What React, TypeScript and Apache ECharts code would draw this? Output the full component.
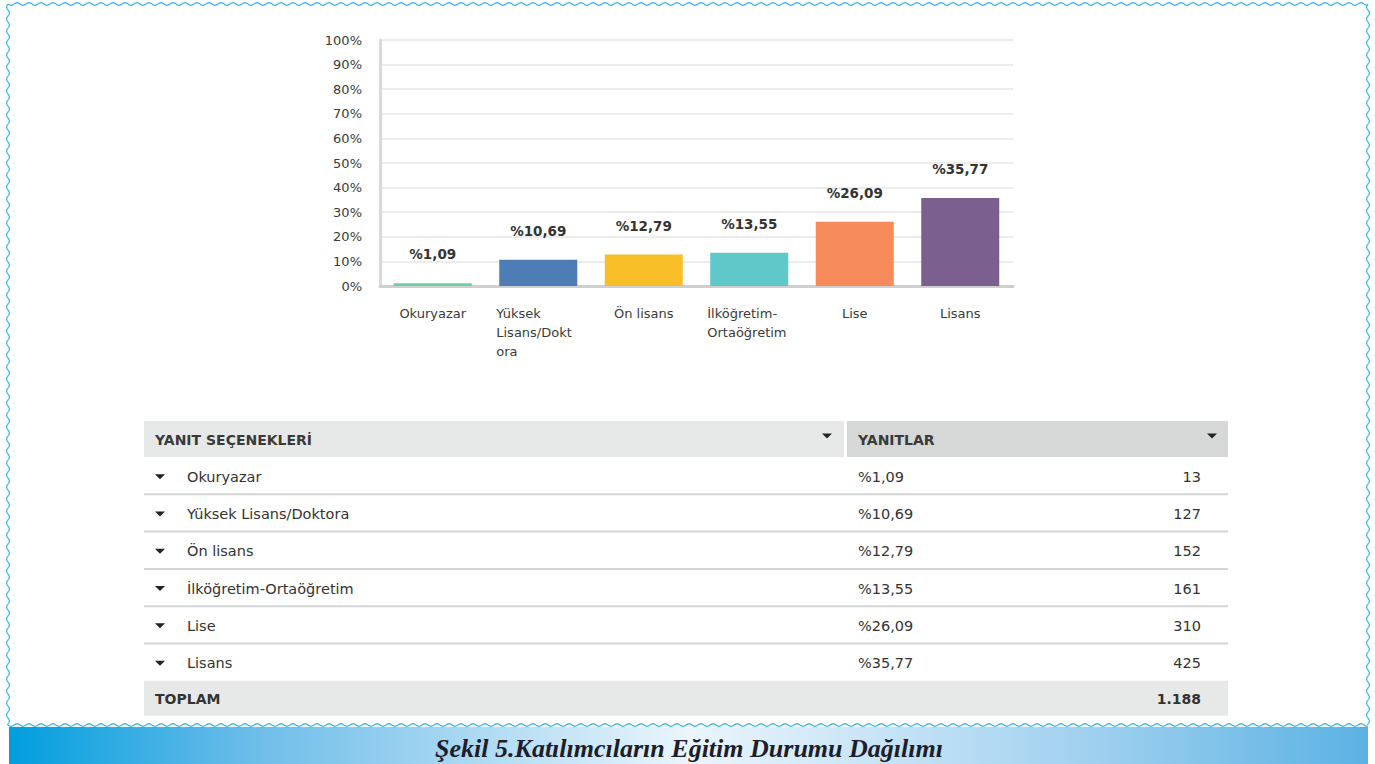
import React, { useEffect, useRef } from "react";
import * as echarts from "echarts";

const categories = ["Okuryazar", "Yüksek Lisans/Doktora", "Ön lisans", "İlköğretim-Ortaöğretim", "Lise", "Lisans"];
const axisLabels = ["Okuryazar", "Yüksek\nLisans/Dokt\nora", "Ön lisans", "İlköğretim-\nOrtaöğretim", "Lise", "Lisans"];
const percentValues = [1.09, 10.69, 12.79, 13.55, 26.09, 35.77];
const counts = [13, 127, 152, 161, 310, 425];
const barColors = ["#6ccf9e", "#4e7cb5", "#f8be27", "#5fc8c8", "#f78a5a", "#7a5f8f"];
const yTicks = [0, 100, 10];
const headerLeft = "YANIT SEÇENEKLERİ";
const headerRight = "YANITLAR";
const totalLabel = "TOPLAM";
const caption = "Şekil 5.Katılımcıların Eğitim Durumu Dağılımı";

const fmtPct = (v: number) => "%" + v.toFixed(2).replace(".", ",");
const fmtInt = (v: number) => v.toString().replace(/\B(?=(\d{3})+(?!\d))/g, ".");

const W = 1375;
const H = 764;
const FONT = "'DejaVu Sans', 'Noto Sans', sans-serif";
const WAVE = "#3fb9ec";

function wavePoints(x0: number, y0: number, x1: number, y1: number, amp: number, period: number) {
  const pts: number[][] = [];
  const len = Math.hypot(x1 - x0, y1 - y0);
  const ux = (x1 - x0) / len, uy = (y1 - y0) / len;
  const nx = -uy, ny = ux;
  for (let s = 0; s <= len; s += 1) {
    const o = amp * Math.sin((s / period) * Math.PI * 2);
    pts.push([x0 + ux * s + nx * o, y0 + uy * s + ny * o]);
  }
  return pts;
}

export default function App() {
  const ref = useRef<HTMLDivElement>(null);
  useEffect(() => {
    if (!ref.current) return;
    const chart = echarts.init(ref.current, null, { renderer: "svg" });

    const tLeft = 144, tRight = 1228, colSplit = 845;
    const headTop = 421, headH = 36, rowH = 37.3;
    const graphics: any[] = [];
    const rowFont = `14.5px ${FONT}`;

    const waveLines = [
      wavePoints(8, 4, 1368, 4, 1.4, 12),
      wavePoints(8, 4, 8, 725, 1.4, 12),
      wavePoints(1368, 4, 1368, 725, 1.4, 12),
      wavePoints(8, 725, 1368, 725, 1.4, 12),
    ];
    waveLines.forEach((pts) =>
      graphics.push({ type: "polyline", shape: { points: pts }, style: { stroke: WAVE, lineWidth: 1.3, fill: null }, silent: true })
    );
    graphics.push({
      type: "rect",
      shape: { x: 9, y: 727, width: 1359, height: 37 },
      style: {
        fill: new echarts.graphic.LinearGradient(0, 0, 1, 0, [
          { offset: 0, color: "#009ede" },
          { offset: 0.18, color: "#6dbde9" },
          { offset: 0.5, color: "#eaf5fc" },
          { offset: 0.8, color: "#9fd0ef" },
          { offset: 1, color: "#5ab2e3" },
        ]),
      },
    });
    graphics.push({
      type: "text",
      x: 689,
      y: 748,
      style: {
        text: caption,
        fill: "#1d1d2b",
        font: "italic bold 26px 'Liberation Serif', 'DejaVu Serif', serif",
        align: "center",
        verticalAlign: "middle",
      },
    });

    graphics.push({ type: "rect", shape: { x: tLeft, y: headTop, width: colSplit - tLeft - 1, height: headH }, style: { fill: "#e7e9e8" } });
    graphics.push({ type: "rect", shape: { x: colSplit + 2, y: headTop, width: tRight - colSplit - 2, height: headH }, style: { fill: "#d6d8d7" } });
    graphics.push({ type: "text", x: 155, y: headTop + headH / 2 + 1, style: { text: headerLeft, fill: "#3a3a3a", font: `bold 14px ${FONT}`, verticalAlign: "middle" } });
    graphics.push({ type: "text", x: 858, y: headTop + headH / 2 + 1, style: { text: headerRight, fill: "#3a3a3a", font: `bold 14px ${FONT}`, verticalAlign: "middle" } });
    const tri = (cx: number, cy: number) => ({
      type: "polygon",
      shape: { points: [[cx - 5, cy - 2.5], [cx + 5, cy - 2.5], [cx, cy + 2.5]] },
      style: { fill: "#222" },
    });
    graphics.push(tri(827, headTop + 15));
    graphics.push(tri(1212, headTop + 15));

    categories.forEach((c, i) => {
      const top = headTop + headH + i * rowH;
      const cy = top + rowH / 2 + 1;
      graphics.push(tri(160, cy));
      graphics.push({ type: "text", x: 187, y: cy, style: { text: c, fill: "#333", font: rowFont, verticalAlign: "middle" } });
      graphics.push({ type: "text", x: 858, y: cy, style: { text: fmtPct(percentValues[i]), fill: "#333", font: rowFont, verticalAlign: "middle" } });
      graphics.push({ type: "text", x: 1201, y: cy, style: { text: fmtInt(counts[i]), fill: "#333", font: rowFont, verticalAlign: "middle", align: "right" } });
      if (i < categories.length - 1) {
        graphics.push({ type: "line", shape: { x1: tLeft, y1: top + rowH, x2: tRight, y2: top + rowH }, style: { stroke: "#d3d5d4", lineWidth: 2 } });
      }
    });
    const totTop = headTop + headH + categories.length * rowH;
    const total = counts.reduce((a, b) => a + b, 0);
    graphics.push({ type: "rect", shape: { x: tLeft, y: totTop, width: tRight - tLeft, height: 35 }, style: { fill: "#e7e9e8" } });
    graphics.push({ type: "text", x: 155, y: totTop + 18, style: { text: totalLabel, fill: "#333", font: `bold 14px ${FONT}`, verticalAlign: "middle" } });
    graphics.push({ type: "text", x: 1201, y: totTop + 18, style: { text: fmtInt(total), fill: "#333", font: `bold 14px ${FONT}`, verticalAlign: "middle", align: "right" } });

    chart.setOption({
      animation: false,
      backgroundColor: "#ffffff",
      grid: { left: 380, top: 40, width: 633, height: 246, containLabel: false },
      xAxis: {
        type: "category",
        data: categories,
        axisLine: { show: true, lineStyle: { color: "#cfcfcf", width: 3 } },
        axisTick: { show: false },
        axisLabel: {
          interval: 0,
          margin: 18,
          color: "#3a3a3a",
          fontSize: 13,
          fontFamily: FONT,
          lineHeight: 19,
          formatter: (_v: string, idx: number) => {
            const l = axisLabels[idx];
            if (l.indexOf("\n") < 0) return l;
            return l.split("\n").map((s) => `{w|${s}}`).join("\n");
          },
          rich: { w: { width: 84, align: "left", fontSize: 13, lineHeight: 19, color: "#3a3a3a", fontFamily: FONT } },
        },
      },
      yAxis: {
        type: "value",
        min: yTicks[0],
        max: yTicks[1],
        interval: yTicks[2],
        axisLine: { show: true, lineStyle: { color: "#d9d9d9", width: 3 } },
        axisTick: { show: false },
        splitLine: { lineStyle: { color: "#ececec", width: 2 } },
        axisLabel: { formatter: "{value}%", color: "#3a3a3a", fontSize: 13, fontFamily: FONT, margin: 18 },
      },
      series: [
        {
          type: "bar",
          barWidth: 78,
          data: percentValues.map((v, i) => ({ value: v, itemStyle: { color: barColors[i] } })),
          label: {
            show: true,
            position: "top",
            distance: 22,
            color: "#333",
            fontSize: 13.5,
            fontWeight: "bold",
            fontFamily: FONT,
            formatter: (p: any) => fmtPct(p.value),
          },
        },
      ],
      graphic: { elements: graphics },
    });
    return () => chart.dispose();
  }, []);
  return <div ref={ref} style={{ position: "absolute", left: 0, top: 0, width: W, height: H }} />;
}
